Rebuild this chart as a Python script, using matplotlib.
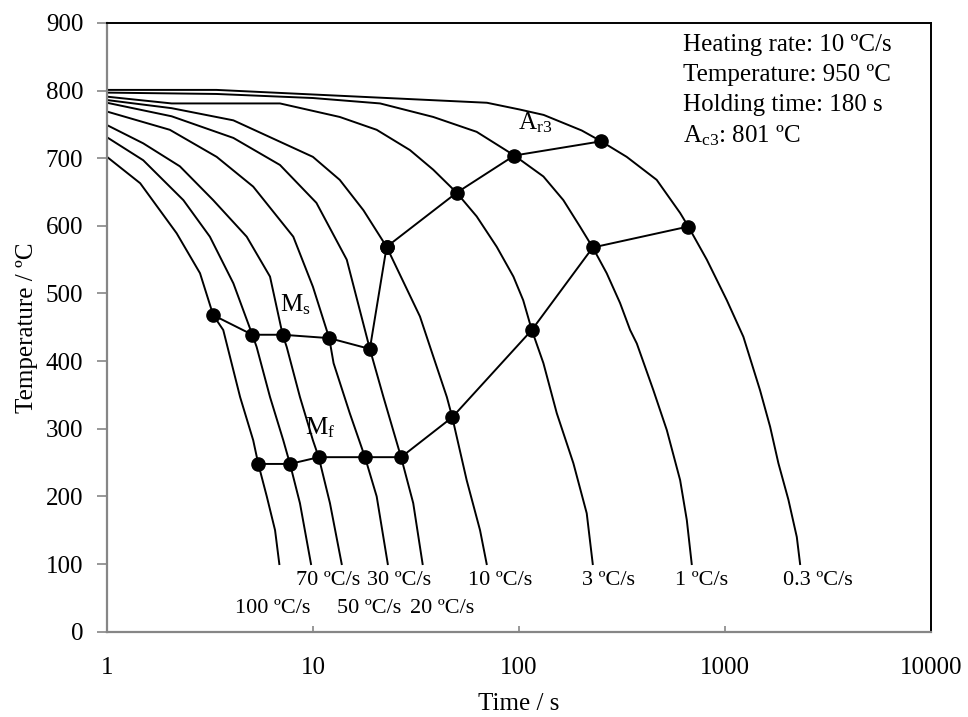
import matplotlib
matplotlib.use("Agg")
import matplotlib.pyplot as plt
from matplotlib.ticker import FixedLocator, FixedFormatter, NullLocator

plt.rcParams["font.family"] = ["Liberation Serif", "DejaVu Serif"]
plt.rcParams["mathtext.fontset"] = "custom"
plt.rcParams["mathtext.rm"] = "Liberation Serif"
plt.rcParams["mathtext.it"] = "Liberation Serif:italic"

# cooling curves (time in s, temperature in degC)
t_100 = [1, 1.45, 2.18, 2.83, 3.28, 3.67, 4.43, 5.13, 5.43, 5.97, 6.55, 6.87]
T_100 = [702, 663, 589, 530, 468, 446, 347, 283, 248, 200, 150, 100]
t_70 = [1, 1.5, 2.35, 3.16, 4.11, 5.08, 5.33, 6.19, 7.18, 7.74, 8.65, 9.79]
T_70 = [731, 697, 638, 584, 515, 439, 421, 347, 283, 248, 190, 100]
t_50 = [1, 1.5, 2.26, 3.28, 4.77, 6.19, 7.13, 7.46, 8.65, 10.0, 10.67, 12.1, 13.8]
T_50 = [749, 722, 688, 638, 584, 525, 439, 421, 347, 283, 258, 190, 100]
t_30 = [1, 2.02, 3.41, 5.13, 8.03, 10.0, 12.0, 12.6, 15.1, 17.9, 20.4, 23.1]
T_30 = [769, 742, 702, 658, 584, 510, 434, 397, 323, 258, 200, 100]
t_20 = [1, 2.06, 4.11, 6.92, 10.4, 14.6, 18.9, 22.0, 26.8, 30.7, 34.1]
T_20 = [782, 762, 730, 690, 634, 550, 418, 347, 258, 190, 100]
t_10 = [1, 2.06, 4.11, 10.0, 13.5, 17.6, 22.8, 33.1, 38.4, 44.7, 47.5, 55.8, 64.8, 69.8]
T_10 = [786, 774, 756, 702, 668, 623, 569, 466, 407, 347, 317, 224, 150, 100]
t_3 = [1, 2.06, 6.92, 13.5, 20.4, 29.6, 38.4, 49.9, 62.4, 78.1, 94.1, 105, 115.6,
       131.6, 152.8, 184, 213.6, 228.5]
T_3 = [791, 781, 781, 761, 742, 712, 683, 649, 614, 569, 525, 490, 446,
       397, 323, 249, 175, 100]
t_1 = [1, 3.4, 10, 21.2, 38.4, 62.4, 95.1, 131.6, 164.5, 198, 228.5, 267, 310,
       347, 374, 450, 523, 607, 654, 691]
T_1 = [797, 795, 789, 781, 761, 739, 704, 673, 638, 599, 568, 530, 486,
       446, 426, 357, 298, 224, 165, 100]
t_03 = [1, 3.4, 70, 101, 132, 202, 251, 334, 467, 607, 665, 818, 1023, 1231,
        1483, 1660, 1821, 2037, 2237, 2321]
T_03 = [801, 801, 782, 772, 764, 741, 725, 702, 668, 619, 599, 550, 490, 436,
        357, 303, 249, 195, 140, 100]

# transformation lines
ms_t = [3.28, 5.08, 7.13, 12.0, 18.9, 22.8]
ms_T = [468, 439, 439, 434, 418, 569]
ar3_t = [22.8, 49.9, 95.1, 251]
ar3_T = [569, 649, 704, 725]
mf_t = [5.43, 7.74, 10.67, 17.9, 26.8, 47.5, 115.6, 228.5, 665]
mf_T = [248, 248, 258, 258, 258, 317, 446, 568, 599]

# cooling rate labels
rate_labels = ["100 ºC/s", "70 ºC/s", "50 ºC/s", "30 ºC/s", "20 ºC/s",
               "10 ºC/s", "3 ºC/s", "1 ºC/s", "0.3 ºC/s"]
rate_label_t = [4.19, 8.28, 13.05, 18.25, 29.6, 56.9, 202, 574, 1914]
rate_label_T = [35, 75, 35, 75, 35, 75, 75, 75, 75]

info_lines = ["Heating rate: 10 ºC/s", "Temperature: 950 ºC",
              "Holding time: 180 s", r"$\mathrm{A_{c3}}$: 801 ºC"]

curves = [(t_100, T_100), (t_70, T_70), (t_50, T_50), (t_30, T_30),
          (t_20, T_20), (t_10, T_10), (t_3, T_3), (t_1, T_1), (t_03, T_03)]

fig = plt.figure(figsize=(9.68, 7.17), dpi=100)
ax = fig.add_axes([0.1105, 0.119, 0.851, 0.849])

for t, T in curves:
    ax.plot(t, T, color="black", lw=1.4)

for t, T in [(ms_t, ms_T), (ar3_t, ar3_T), (mf_t, mf_T)]:
    ax.plot(t, T, color="black", lw=1.4, marker="o", ms=9.5, mfc="black", mec="black")

for lab, t, T in zip(rate_labels, rate_label_t, rate_label_T):
    ax.text(t, T, lab, ha="left", va="center", fontsize=16)

ax.text(99, 752, r"$\mathrm{A_{r3}}$", ha="left", va="center", fontsize=18)
ax.text(6.9, 483, r"$\mathrm{M_{s}}$", ha="left", va="center", fontsize=18)
ax.text(9.16, 301, r"$\mathrm{M_{f}}$", ha="left", va="center", fontsize=18)

for i, line in enumerate(info_lines):
    ax.text(629, 867 - i * 44.5, line, ha="left", va="center", fontsize=18)

ax.set_xscale("log")
ax.set_xlim(1, 10000)
ax.set_ylim(0, 900)
ax.xaxis.set_major_locator(FixedLocator([1, 10, 100, 1000, 10000]))
ax.xaxis.set_major_formatter(FixedFormatter(["1", "10", "100", "1000", "10000"]))
ax.xaxis.set_minor_locator(NullLocator())
ax.set_yticks(range(0, 901, 100))

grey = "#868686"
for side in ["left", "bottom"]:
    ax.spines[side].set_color(grey)
    ax.spines[side].set_linewidth(1.6)
for side in ["top", "right"]:
    ax.spines[side].set_color("black")
    ax.spines[side].set_linewidth(1.4)

ax.tick_params(axis="y", direction="out", length=7, width=1.2, color=grey,
               labelsize=18, pad=10)
ax.tick_params(axis="x", direction="in", length=4, width=1.2, color=grey,
               labelsize=18, pad=18)

ax.set_xlabel("Time / s", fontsize=18, labelpad=10)
ax.set_ylabel("Temperature / ºC", fontsize=18, labelpad=6)

fig.savefig("out.png", dpi=100)
